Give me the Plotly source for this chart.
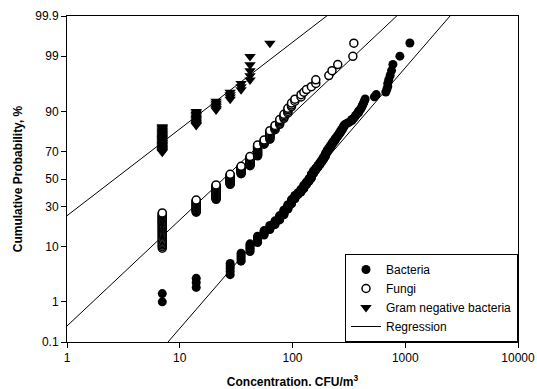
import math
import plotly.graph_objects as go
from statistics import NormalDist

# ---------------- data (concentration values, CFU/m3, with number of samples) ----------------
# Bacteria
bact_zeros = 1
bact_conc = [7, 14, 28, 35, 42, 49, 56, 63, 70, 77, 84, 91, 98, 105, 112, 119, 126, 133, 140,
             147, 154, 161, 168, 175, 182, 189, 196, 203, 210, 217, 224, 231, 238, 245, 252,
             259, 266, 273, 280, 287, 294, 308, 322, 336, 350, 357, 364, 371, 385, 399, 406,
             413, 420, 427, 434, 441, 532, 553, 672, 686, 700, 714, 735, 756, 777, 896, 1099]
bact_count = [2, 3, 5, 5, 6, 6, 5, 5, 5, 6, 7, 7, 7, 6, 4, 5, 6, 5, 5,
              7, 5, 4, 4, 4, 4, 4, 5, 4, 3, 3, 3, 2, 3, 2, 2,
              2, 2, 2, 2, 2, 1, 1, 1, 2, 1, 1, 1, 1, 2, 1, 1,
              1, 1, 1, 1, 1, 1, 1, 1, 1, 2, 1, 1, 1, 1, 1, 1]

# Fungi
fungi_zeros = 18
fungi_conc = [7, 14, 21, 28, 35, 42, 49, 56, 63, 70, 77, 84, 91, 98, 105, 119, 126, 133,
              147, 161, 210, 224, 252, 343, 350]
fungi_count = [34, 17, 22, 16, 12, 14, 15, 6, 10, 5, 5, 4, 4, 3, 2, 2, 1, 1,
               1, 2, 1, 1, 1, 1, 1]

# Gram negative bacteria
gram_zeros = 137
gram_conc = [7, 14, 21, 28, 35, 42, 63]
gram_count = [30, 12, 6, 4, 3, 5, 1]

# Regression lines: probit(z) = intercept + slope * log10(concentration)
reg_names = ["Bacteria", "Fungi", "Gram negative bacteria"]
reg_intercept = [-5.304, -2.787, -0.696]
reg_slope = [2.471, 2.01, 1.644]
reg_x = [1, 10000]

# Axis ticks
y_ticks = [0.1, 1, 10, 30, 50, 70, 90, 99, 99.9]
x_ticks = [1, 10, 100, 1000, 10000]

nd = NormalDist()


def probit(p_percent):
    return nd.inv_cdf(p_percent / 100.0)


def plotting_positions(conc, count, zeros):
    n = zeros + sum(count)
    xs, zs = [], []
    rank = zeros
    for c, k in zip(conc, count):
        for _ in range(k):
            rank += 1
            xs.append(c)
            zs.append(probit(100.0 * rank / (n + 1)))
    return xs, zs


FONT = "Liberation Sans, Arial, sans-serif"
fig = go.Figure()

# regression lines
for i, (nm, a, b) in enumerate(zip(reg_names, reg_intercept, reg_slope)):
    fig.add_trace(go.Scatter(
        x=reg_x, y=[a + b * math.log10(v) for v in reg_x],
        mode="lines", line=dict(color="black", width=1),
        name="Regression", legendgroup="reg", showlegend=(i == 0), legendrank=4,
        hoverinfo="skip"))

bx, bz = plotting_positions(bact_conc, bact_count, bact_zeros)
fx, fz = plotting_positions(fungi_conc, fungi_count, fungi_zeros)
gx, gz = plotting_positions(gram_conc, gram_count, gram_zeros)

fig.add_trace(go.Scatter(x=bx, y=bz, mode="markers", name="Bacteria", legendrank=1,
                         marker=dict(symbol="circle", size=9, color="black",
                                     line=dict(width=0))))
fig.add_trace(go.Scatter(x=fx, y=fz, mode="markers", name="Fungi", legendrank=2,
                         marker=dict(symbol="circle", size=8, color="white",
                                     line=dict(width=1.5, color="black"))))
fig.add_trace(go.Scatter(x=gx, y=gz, mode="markers", name="Gram negative bacteria", legendrank=3,
                         marker=dict(symbol="triangle-down", size=10, color="black",
                                     line=dict(width=0))))

fig.update_layout(
    width=537, height=389,
    margin=dict(l=67, r=19, t=16, b=47),
    paper_bgcolor="white", plot_bgcolor="white",
    font=dict(family=FONT, size=12, color="black"),
    showlegend=True,
    legend=dict(x=1, y=0, xanchor="right", yanchor="bottom",
                bgcolor="white", bordercolor="black", borderwidth=1,
                font=dict(family=FONT, size=12, color="black"),
                tracegroupgap=0),
)

fig.update_xaxes(
    type="log", range=[0, 4], automargin=False,
    tickvals=x_ticks, ticktext=[str(v) for v in x_ticks],
    ticks="outside", ticklen=5, tickcolor="black", tickwidth=1,
    showline=True, linecolor="black", linewidth=1, mirror=True,
    showgrid=False, zeroline=False,
    tickfont=dict(family=FONT, size=12, color="black"),
    title=dict(text="<b>Concentration. CFU/m<sup>3</sup></b>",
               font=dict(family=FONT, size=12, color="black"), standoff=16),
)
fig.update_yaxes(
    range=[probit(0.1), probit(99.9)], automargin=False,
    tickvals=[probit(v) for v in y_ticks], ticktext=[str(v) for v in y_ticks],
    ticks="outside", ticklen=5, tickcolor="black", tickwidth=1,
    showline=True, linecolor="black", linewidth=1, mirror=True,
    showgrid=False, zeroline=False,
    tickfont=dict(family=FONT, size=12, color="black"),
    title=dict(text="<b>Cumulative Probability, %</b>",
               font=dict(family=FONT, size=12, color="black"), standoff=10),
)

fig.write_html("out.html")
